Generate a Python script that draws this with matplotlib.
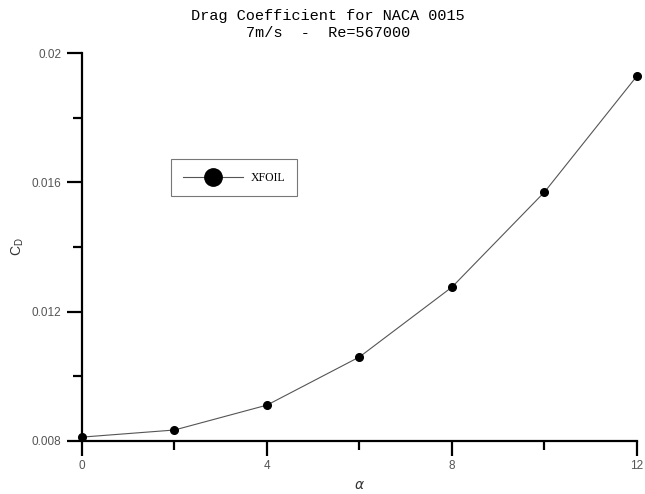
import matplotlib
matplotlib.use("Agg")
import matplotlib.pyplot as plt
from matplotlib.lines import Line2D
from matplotlib.ticker import MultipleLocator

# data
alpha = [0, 2, 4, 6, 8, 10, 12]
cd = [0.00812, 0.00834, 0.00911, 0.01060, 0.01276, 0.01570, 0.01929]

fig = plt.figure(figsize=(6.45, 4.94), dpi=100)
ax = fig.add_axes([0.1271, 0.1073, 0.8605, 0.7854])

ax.plot(alpha, cd, color='#555555', linewidth=0.8, marker='o',
        markersize=5.5, markerfacecolor='black', markeredgecolor='black',
        clip_on=False, zorder=3)

ax.set_xlim(0, 12)
ax.set_ylim(0.008, 0.02)
ax.spines['right'].set_visible(False)
ax.spines['top'].set_visible(False)
for s in ('left', 'bottom'):
    ax.spines[s].set_linewidth(1.6)

ax.set_xticks([0, 4, 8, 12])
ax.set_yticks([0.008, 0.012, 0.016, 0.02])
ax.set_yticklabels(['0.008', '0.012', '0.016', '0.02'])
ax.xaxis.set_minor_locator(MultipleLocator(2))
ax.yaxis.set_minor_locator(MultipleLocator(0.002))
ax.tick_params(which='major', direction='out', length=10.5, width=1.6,
               labelsize=8.5, labelcolor='#555555')
ax.tick_params(axis='x', which='major', pad=3.5)
ax.tick_params(axis='y', which='major', pad=4.5)
ax.tick_params(which='minor', direction='out', length=6.5, width=1.6)
for lbl in ax.get_xticklabels() + ax.get_yticklabels():
    lbl.set_family('Liberation Sans')

fig.text(0.558, 0.018, r'$\alpha$', ha='center', va='center', fontsize=10,
         color='#333333')
fig.text(0.028, 0.5, r'C$_\mathregular{D}$', rotation=90, ha='center',
         va='center', fontsize=10, color='#333333', family='Liberation Sans')

fig.text(0.508, 0.9676, 'Drag Coefficient for NACA 0015', ha='center',
         va='center', fontsize=11, family='Liberation Mono')
fig.text(0.508, 0.933, '7m/s  -  Re=567000', ha='center', va='center',
         fontsize=11, family='Liberation Mono')

handle = Line2D([], [], color='#555555', linewidth=0.8, marker='o',
                markersize=12.5, markerfacecolor='black',
                markeredgecolor='black')
leg = fig.legend([handle], ['XFOIL'], loc='upper left',
                 bbox_to_anchor=(0.2647, 0.6775),
                 bbox_transform=fig.transFigure, borderaxespad=0,
                 frameon=True, fancybox=False, handlelength=5.1,
                 handletextpad=0.6, borderpad=1.05,
                 prop={'family': 'Liberation Serif', 'size': 8.5})
leg.get_frame().set_edgecolor('#555555')
leg.get_frame().set_linewidth(0.8)

fig.savefig('out.png', dpi=100)
